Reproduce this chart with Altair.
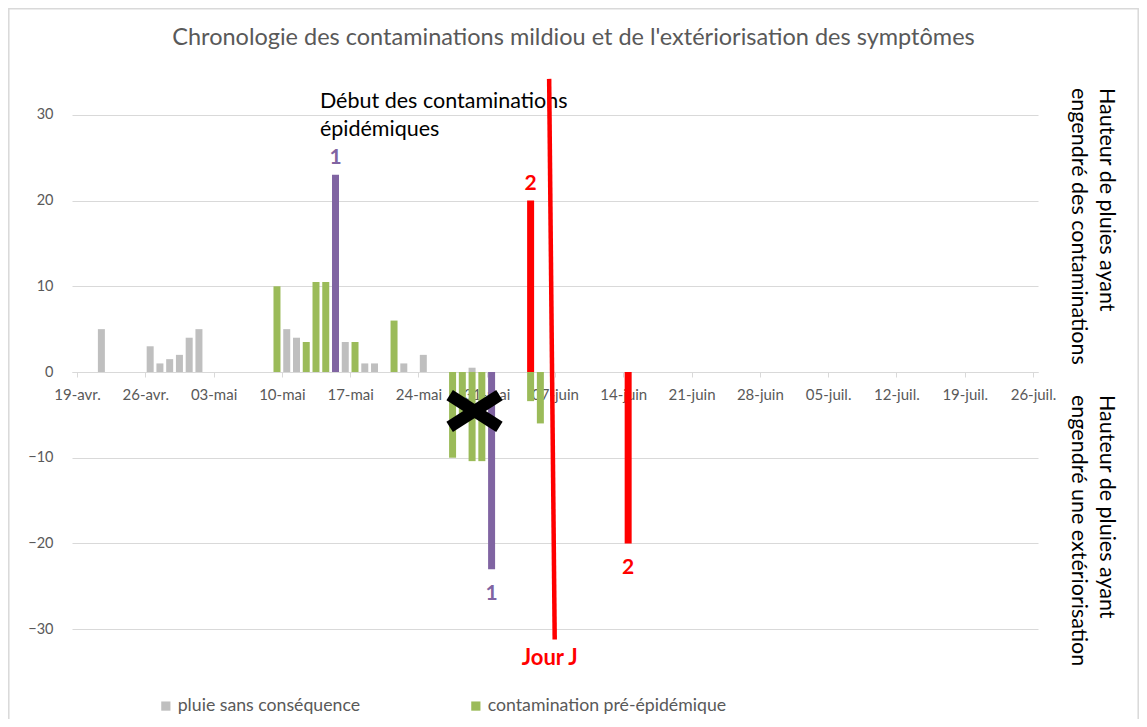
import json
import pandas as pd
import altair as alt

# ---------------- data ----------------
START = "2021-04-19"
tick_labels = ["19-avr.", "26-avr.", "03-mai", "10-mai", "17-mai", "24-mai", "31-mai",
               "07-juin", "14-juin", "21-juin", "28-juin", "05-juil.", "12-juil.",
               "19-juil.", "26-juil."]
y_ticks = [-30, -20, -10, 0, 10, 20, 30]

categories = ["pluie sans conséquence", "contamination pré-épidémique",
              "contamination épidémique 1", "contamination épidémique 2"]
colors = ["#bfbfbf", "#9bbb59", "#8064a2", "#ff0000"]

gray_dates = ["2021-04-21", "2021-04-26", "2021-04-27", "2021-04-28", "2021-04-29",
              "2021-04-30", "2021-05-01", "2021-05-10", "2021-05-11", "2021-05-16",
              "2021-05-18", "2021-05-19", "2021-05-22", "2021-05-24", "2021-05-29"]
gray_values = [5, 3, 1, 1.5, 2, 4, 5, 5, 4, 3.5, 1, 1, 1, 2, 0.5]

green_dates = ["2021-05-09", "2021-05-12", "2021-05-13", "2021-05-14", "2021-05-17",
               "2021-05-21", "2021-05-27", "2021-05-28", "2021-05-29", "2021-05-30",
               "2021-06-04", "2021-06-05"]
green_values = [10, 3.5, 10.5, 10.5, 3.5, 6, -10, -5, -10.4, -10.4, -3.4, -6]

epi1_dates = ["2021-05-15", "2021-05-31"]
epi1_values = [23, -23]
epi1_labels = ["1", "1"]

epi2_dates = ["2021-06-04", "2021-06-14"]
epi2_values = [20, -20]
epi2_labels = ["2", "2"]

# "Jour J" line (drawn shape), in days after 19-avr. and rain height units
jourj_x = [48.4, 48.97]
jourj_y = [34.2, -31.2]

# black cross over the end of the pre-epidemic period
cross_x = [38.2, 43.3]
cross_y = [-2.7, -6.4]

title_text = "Chronologie des contaminations mildiou et de l'extériorisation des symptômes"
debut_text = ["Début des contaminations", "épidémiques"]
debut_pos = [24.9, 30.8]
right_top_text = ["Hauteur de pluies ayant", "engendré des contaminations"]
right_bottom_text = ["Hauteur de pluies ayant", "engendré une extériorisation"]

FONT = "Lato"
GRAY_TXT = "#595959"

# ---------------- tables ----------------
def day(d):
    return (pd.Timestamp(d) - pd.Timestamp(START)).days


rows = []
for dates, vals, cat in [(gray_dates, gray_values, categories[0]),
                         (green_dates, green_values, categories[1]),
                         (epi1_dates, epi1_values, categories[2]),
                         (epi2_dates, epi2_values, categories[3])]:
    for d, v in zip(dates, vals):
        rows.append({"x": day(d) + 0.5, "y": v, "cat": cat})
bars_df = pd.DataFrame(rows)

lab_rows = []
for dates, vals, labs, col in [(epi1_dates, epi1_values, epi1_labels, colors[2]),
                               (epi2_dates, epi2_values, epi2_labels, colors[3])]:
    for d, v, l in zip(dates, vals, labs):
        lab_rows.append({"x": day(d) + 0.5, "y": v, "label": l, "col": col})
labels_df = pd.DataFrame(lab_rows)

jourj_df = pd.DataFrame({"x": [jourj_x[0]], "x2": [jourj_x[1]],
                         "y": [jourj_y[0]], "y2": [jourj_y[1]]})
cross_df = pd.DataFrame({"x": [cross_x[0], cross_x[0]], "x2": [cross_x[1], cross_x[1]],
                         "y": [cross_y[0], cross_y[1]], "y2": [cross_y[1], cross_y[0]]})
debut_df = pd.DataFrame({"x": [debut_pos[0]], "y": [debut_pos[1]]})
one_df = pd.DataFrame({"k": [0]})

# ---------------- scales / axes ----------------
x_axis = alt.Axis(values=list(range(0, 99, 7)),
                  labelExpr=f"{json.dumps(tick_labels)}[round(datum.value/7)]",
                  offset=-300, grid=False, domainColor="#d9d9d9", tickColor="#d9d9d9",
                  tickSize=5, labelColor=GRAY_TXT, labelFont=FONT, labelFontSize=15,
                  labelPadding=10, title=None, labelFlush=False, labelOverlap=False)
y_axis = alt.Axis(values=y_ticks, grid=True, gridColor="#d9d9d9", domain=False,
                  ticks=False, labelColor=GRAY_TXT, labelFont=FONT, labelFontSize=14.5,
                  labelPadding=19, title=None)
x_scale = alt.Scale(domain=[0, 98], nice=False, zero=False)
y_scale = alt.Scale(domain=[-35, 35], nice=False)


def X(f):
    return alt.X(f, scale=x_scale, axis=x_axis)


def Y(f):
    return alt.Y(f, scale=y_scale, axis=y_axis)


bars = alt.Chart(bars_df).mark_bar(size=7).encode(
    x=X("x:Q"),
    y=alt.Y("y:Q", scale=y_scale, axis=y_axis, stack=None),
    color=alt.Color("cat:N", scale=alt.Scale(domain=categories, range=colors),
                    legend=alt.Legend(values=categories[:2], orient="none", legendX=85,
                                      legendY=625, direction="horizontal", title=None,
                                      symbolType="square", symbolSize=85,
                                      symbolStrokeWidth=0, labelFontSize=17.7,
                                      labelColor=GRAY_TXT, labelFont=FONT,
                                      labelOffset=3, labelLimit=400,
                                      columnPadding=106, padding=0)),
)

lab_pos = alt.Chart(labels_df).transform_filter("datum.y > 0").mark_text(
    font=FONT, fontSize=21, fontWeight="bold", baseline="middle", dy=-17
).encode(x=X("x:Q"), y=Y("y:Q"), text="label:N", color=alt.Color("col:N", scale=None))

lab_neg = alt.Chart(labels_df).transform_filter("datum.y < 0").mark_text(
    font=FONT, fontSize=21, fontWeight="bold", baseline="middle", dy=25
).encode(x=X("x:Q"), y=Y("y:Q"), text="label:N", color=alt.Color("col:N", scale=None))

debut = alt.Chart(debut_df).mark_text(
    text=debut_text, font=FONT, fontSize=21.5, lineHeight=28, align="left",
    baseline="alphabetic", color="black"
).encode(x=X("x:Q"), y=Y("y:Q"))

jourj = alt.Chart(jourj_df).mark_rule(color="#ff0000", strokeWidth=4.5).encode(
    x=X("x:Q"), x2="x2:Q", y=Y("y:Q"), y2="y2:Q")

jourj_lab = alt.Chart(jourj_df).mark_text(
    text="Jour J", font=FONT, fontSize=22, fontWeight="bold", color="#ff0000",
    baseline="middle", dy=19, dx=-5
).encode(x=X("x2:Q"), y=Y("y2:Q"))

cross = alt.Chart(cross_df).mark_rule(color="black", strokeWidth=12, strokeCap="butt").encode(
    x=X("x:Q"), x2="x2:Q", y=Y("y:Q"), y2="y2:Q")

right_top = alt.Chart(one_df).mark_text(
    text=right_top_text, angle=90, align="left", baseline="alphabetic", lineHeight=28,
    font=FONT, fontSize=21.5, color="black"
).encode(x=alt.value(1028), y=alt.value(16))

right_bottom = alt.Chart(one_df).mark_text(
    text=right_bottom_text, angle=90, align="left", baseline="alphabetic", lineHeight=28,
    font=FONT, fontSize=21.5, color="black"
).encode(x=alt.value(1028), y=alt.value(323))

title = alt.Chart(one_df).mark_text(
    text=title_text, font=FONT, fontSize=23.5, color=GRAY_TXT, align="center",
    baseline="middle"
).encode(x=alt.value(501.5), y=alt.value(-34))

frame = alt.Chart(one_df).mark_rect(filled=False, stroke="#d9d9d9", strokeWidth=1.5).encode(
    x=alt.value(-63.2), x2=alt.value(1066.2), y=alt.value(-63.2), y2=alt.value(700))

chart = alt.layer(
    frame, title, bars, lab_pos, lab_neg, debut, jourj, jourj_lab, cross,
    right_top, right_bottom
).properties(
    width=966, height=600,
    autosize=alt.AutoSizeParams(type="none"),
    padding={"left": 64, "top": 64, "right": 101, "bottom": 47},
).configure_view(strokeWidth=0)

chart.save("out.html", embed_options={"renderer": "svg", "actions": False})
